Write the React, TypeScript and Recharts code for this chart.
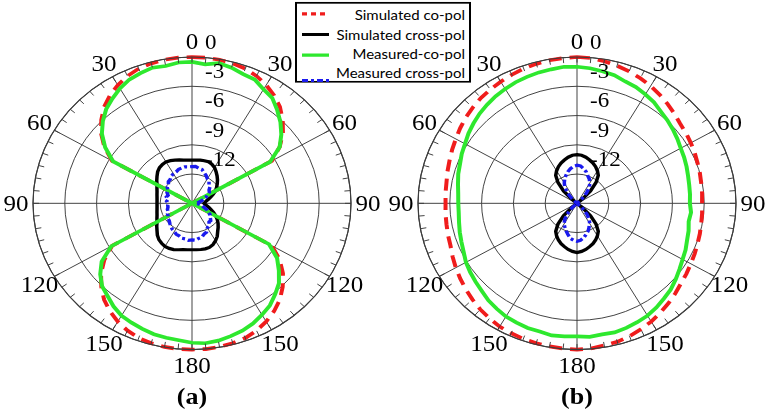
import { RadarChart, Radar, PolarGrid, PolarAngleAxis, PolarRadiusAxis, Legend } from 'recharts'

// angle categories (deg, clockwise from top)
const ANGLES = [
  0, 5, 10, 15, 20, 25, 30, 35, 40, 45, 50, 55, 60, 65, 70, 75, 80, 85,
  90, 95, 100, 105, 110, 115, 120, 125, 130, 135, 140, 145, 150, 155, 160, 165, 170, 175,
  180, 185, 190, 195, 200, 205, 210, 215, 220, 225, 230, 235, 240, 245, 250, 255, 260, 265,
  270, 275, 280, 285, 290, 295, 300, 305, 310, 315, 320, 325, 330, 335, 340, 345, 350, 355,
]

// (a) patterns, dB
const SIM_CO_A = [
  0, 0, -0.05, -0.15, -0.3, -0.6, -1.0, -1.5, -2.1, -2.9, -3.8, -4.9, -6.3,
  -15, -15, -15, -15, -15, -15, -15, -15, -15, -15, -15,
  -6.3, -4.9, -3.8, -2.9, -2.1, -1.5, -1.0, -0.6, -0.3, -0.15, -0.05, 0, 0, 0, -0.05, -0.15, -0.3, -0.6, -1.0, -1.5, -2.1, -2.9, -3.8, -4.9, -6.3,
  -15, -15, -15, -15, -15, -15, -15, -15, -15, -15, -15,
  -6.3, -4.9, -3.8, -2.9, -2.1, -1.5, -1.0, -0.6, -0.3, -0.15, -0.05, 0,
]
const SIM_X_A = [
  -10.57, -10.54, -10.5, -10.48, -10.47, -10.57, -10.75, -11.04, -11.32, -11.6, -11.89, -12.17, -12.45, -12.78, -13.11, -13.4, -13.63, -13.77,
  -13.87, -13.77, -13.58, -13.35, -13.07, -12.74, -12.41, -12.08, -11.79, -11.51, -11.23, -10.85, -10.57, -10.33, -10.19, -10.17, -10.19, -10.22,
  -10.24, -10.22, -10.17, -10.07, -9.95, -9.9, -9.9, -10.0, -10.14, -10.38, -10.69, -10.94, -11.19, -11.35, -11.49, -11.58, -11.65, -11.69,
  -11.7, -11.69, -11.65, -11.58, -11.49, -11.35, -11.19, -10.94, -10.69, -10.42, -10.23, -10.14, -10.09, -10.17, -10.28, -10.38, -10.5, -10.55,
]
const MEAS_CO_A = [
  -0.5, -0.7, -0.4, -0.6, -0.9, -1.0, -1.5, -1.8, -2.5, -3.2, -4.0, -4.9, -6.5,
  -15, -15, -15, -15, -15, -15, -15, -15, -15, -15, -15,
  -6.6, -5.2, -4.3, -3.4, -2.8, -2.2, -1.8, -1.4, -1.1, -0.9, -0.7, -0.6, -0.7, -0.9, -1.0, -1.1, -1.3, -1.5, -1.7, -2.1, -2.6, -3.0, -3.7, -4.6, -6.2,
  -15, -15, -15, -15, -15, -15, -15, -15, -15, -15, -15,
  -6.4, -5.0, -3.9, -3.1, -2.4, -1.9, -1.4, -1.0, -0.8, -0.6, -0.7, -0.5,
]
const MEAS_X_A = [
  -11.23, -11.2, -11.35, -11.4, -11.65, -11.85, -12.1, -12.2, -12.5, -12.6, -12.9, -13.0, -13.35, -13.55, -13.9, -14.1, -14.35, -14.5,
  -14.65, -14.4, -14.25, -14.05, -13.8, -13.45, -13.25, -12.9, -12.75, -12.5, -12.5, -12.2, -12.1, -11.75, -11.65, -11.4, -11.35, -11.2,
  -11.25, -11.2, -11.3, -11.3, -11.45, -11.5, -11.65, -11.75, -11.9, -12.05, -12.2, -12.25, -12.4, -12.45, -12.6, -12.6, -12.7, -12.7,
  -12.75, -12.6, -12.7, -12.5, -12.6, -12.4, -12.4, -12.15, -12.1, -11.85, -11.8, -11.6, -11.5, -11.45, -11.3, -11.25, -11.2, -11.25,
]

// (b) patterns, dB
const SIM_CO_B = [
  0, -0.05, -0.2, -0.4, -0.6, -0.85, -1.1, -1.4, -1.7, -2.0, -2.3, -2.45, -2.6, -2.75, -2.9, -3.0, -3.1, -3.15,
  -3.2, -3.15, -3.1, -3.0, -2.9, -2.75, -2.6, -2.4, -2.2, -1.9, -1.6, -1.3, -1.0, -0.75, -0.5, -0.3, -0.2, -0.05,
  0, -0.05, -0.1, -0.15, -0.2, -0.3, -0.4, -0.6, -0.8, -1.05, -1.3, -1.55, -1.8, -2.05, -2.3, -2.4, -2.5, -2.55,
  -2.6, -2.55, -2.5, -2.35, -2.2, -2.0, -1.8, -1.55, -1.3, -1.1, -0.9, -0.75, -0.6, -0.45, -0.3, -0.2, -0.1, -0.05,
]
const SIM_X_B = [
  -10.0, -10.05, -10.2, -10.4, -10.6, -10.85, -11.15, -11.5, -12.2, -13.2, -14.4,
  -15, -15, -15, -15, -15, -15, -15, -15, -15, -15, -15, -15, -15, -15, -15,
  -14.4, -13.2, -12.2, -11.5, -11.15, -10.85, -10.6, -10.4, -10.2, -10.05, -9.95, -10.05, -10.2, -10.4, -10.6, -10.85, -11.15, -11.5, -12.2, -13.2, -14.4,
  -15, -15, -15, -15, -15, -15, -15, -15, -15, -15, -15, -15, -15, -15, -15,
  -14.4, -13.2, -12.2, -11.5, -11.15, -10.85, -10.6, -10.4, -10.2, -10.05,
]
const MEAS_CO_B = [
  -1.0, -1.1, -1.25, -1.4, -1.7, -1.85, -2.1, -2.35, -2.7, -2.95, -3.2, -3.45, -3.7, -3.85, -4.0, -4.15, -4.25, -4.3,
  -4.35, -4.2, -4.3, -4.1, -3.95, -3.7, -3.5, -3.2, -2.85, -2.5, -2.25, -1.95, -1.7, -1.55, -1.4, -1.3, -1.35, -1.25,
  -1.35, -1.3, -1.25, -1.4, -1.4, -1.5, -1.6, -1.8, -2.0, -2.3, -2.5, -2.7, -2.9, -3.2, -3.4, -3.55, -3.7, -3.8,
  -3.8, -3.75, -3.6, -3.4, -3.25, -3.0, -2.8, -2.5, -2.25, -2.0, -1.8, -1.6, -1.45, -1.3, -1.2, -1.1, -1.05, -0.95,
]
const MEAS_X_B = [
  -11.1, -11.15, -11.4, -11.65, -12.0, -12.25, -12.6, -12.95, -13.6, -14.3, -15,
  -15, -15, -15, -15, -15, -15, -15, -15, -15, -15, -15, -15, -15, -15, -15,
  -15, -14.3, -13.55, -13.0, -12.6, -12.3, -11.95, -11.7, -11.4, -11.2, -11.1, -11.2, -11.35, -11.7, -12.0, -12.3, -12.55, -13.0, -13.55, -14.3, -15,
  -15, -15, -15, -15, -15, -15, -15, -15, -15, -15, -15, -15, -15, -15, -15,
  -15, -14.3, -13.6, -13.0, -12.6, -12.25, -11.95, -11.65, -11.4, -11.2,
]

const SPOKES = [0, 30, 60, 90, 120, 150, 180, 210, 240, 270, 300, 330]

const rowsA = ANGLES.map((a, i) => ({ angle: a, simCo: SIM_CO_A[i], simX: SIM_X_A[i], measCo: MEAS_CO_A[i], measX: MEAS_X_A[i] }))
const rowsB = ANGLES.map((a, i) => ({ angle: a, simCo: SIM_CO_B[i], simX: SIM_X_B[i], measCo: MEAS_CO_B[i], measX: MEAS_X_B[i] }))

const W = 767
const H = 446
const SY = 0.92
const CY = 221
const R = 159
const LABEL_R = 176
const TICK_LEN = 6
const GRID = '#3c3c3c'
const SERIF = '"Liberation Serif", "Times New Roman", serif'

const SERIES = [
  { key: 'simCo', name: 'Simulated co-pol', color: '#f01c1c', width: 4, dash: '13 8', legendDash: '5 4', legendDy: 0 },
  { key: 'simX', name: 'Simulated cross-pol', color: '#000000', width: 3.5, dash: undefined, legendDash: undefined, legendDy: 0 },
  { key: 'measCo', name: 'Measured-co-pol', color: '#2ee82e', width: 4, dash: undefined, legendDash: undefined, legendDy: 0 },
  { key: 'measX', name: 'Measured cross-pol', color: '#1a1aee', width: 3.5, dash: '7 3 3 3', legendDash: '6 3 3 3', legendDy: 5 },
]

// inward tick on the outer ring every 5 deg, label every 30 deg
function angleTick(cx: number) {
  return (props: any) => {
    const { x, y, payload } = props
    const v = Number(payload.value)
    const dx = x - cx
    const dy = y - CY
    const d = Math.hypot(dx, dy) || 1
    const ux = dx / d
    const uy = dy / d
    return (
      <g>
        <line x1={cx + ux * R} y1={CY + uy * R} x2={cx + ux * (R - TICK_LEN)} y2={CY + uy * (R - TICK_LEN)}
          stroke={GRID} strokeWidth={1} />
        {v % 30 === 0 && (
          <text x={cx + ux * LABEL_R} y={CY + uy * LABEL_R} textAnchor="middle" dominantBaseline="central"
            fontSize={25} fontFamily={SERIF} fill="#000">
            {v <= 180 ? v : 360 - v}
          </text>
        )}
      </g>
    )
  }
}

function radiusTick(props: any) {
  const { x, y, payload } = props
  if (payload.value === -15) return <g />
  return (
    <text x={x + 13} y={y - 9} fontSize={23} fontFamily={SERIF} fill="#000">{payload.value}</text>
  )
}

function LegendBox() {
  return (
    <svg width={176} height={88}>
      <rect x={1} y={1} width={174} height={86} fill="#fff" stroke="#000" strokeWidth={2} />
      {SERIES.map((s, i) => (
        <g key={s.key}>
          <line x1={7} x2={34} y1={13 + i * 22.5 + s.legendDy} y2={13 + i * 22.5 + s.legendDy}
            stroke={s.color} strokeWidth={3.5} strokeDasharray={s.legendDash} />
          <text x={170} y={14.5 + i * 21} textAnchor="end" dominantBaseline="central"
            fontSize={15} fontFamily="Lato, sans-serif" fill="#000">{s.name}</text>
        </g>
      ))}
    </svg>
  )
}

function PolarPlot({ data, cx, withLegend }: { data: any[]; cx: number; withLegend?: boolean }) {
  return (
    <RadarChart width={W} height={H} data={data} cx={cx} cy={CY} outerRadius={R} margin={{ top: 0, right: 0, bottom: 0, left: 0 }}>
      <PolarGrid gridType="circle" polarAngles={SPOKES} stroke={GRID} strokeWidth={1} />
      <PolarAngleAxis dataKey="angle" type="category" axisLineType="circle"
        axisLine={{ stroke: GRID, strokeWidth: 1.2 }} tickLine={false} tick={angleTick(cx)} />
      <PolarRadiusAxis type="number" angle={90} domain={[-15, 0]} tickCount={6} axisLine={false} tickLine={false} tick={radiusTick} />
      {SERIES.map(s => (
        <Radar key={s.key} dataKey={s.key} name={s.name} stroke={s.color} strokeWidth={s.width} strokeDasharray={s.dash}
          fill="none" fillOpacity={0} dot={false} isAnimationActive={false} />
      ))}
      {withLegend && (
        <Legend content={() => <LegendBox />}
          wrapperStyle={{ position: 'absolute', left: 295, top: 2, width: 176, height: 88 }} />
      )}
    </RadarChart>
  )
}

export default function App() {
  const caption = (cx: number, text: string) => (
    <div style={{ position: 'absolute', left: cx - 50, top: 416, width: 100, textAlign: 'center', lineHeight: '30px',
      fontSize: 26, fontWeight: 'bold', fontFamily: SERIF }}>{text}</div>
  )
  return (
    <div style={{ position: 'absolute', left: 0, top: 0, width: W, height: 410, overflow: 'hidden', background: '#fff' }}>
      <div style={{ position: 'absolute', left: 0, top: 0, width: W, height: H, transform: `scaleY(${SY})`, transformOrigin: '0 0' }}>
        <div style={{ position: 'absolute', left: 0, top: 0 }}>
          <PolarPlot data={rowsA} cx={192} withLegend />
        </div>
        <div style={{ position: 'absolute', left: 0, top: 0 }}>
          <PolarPlot data={rowsB} cx={577} />
        </div>
        {caption(192, '(a)')}
        {caption(577, '(b)')}
      </div>
    </div>
  )
}
